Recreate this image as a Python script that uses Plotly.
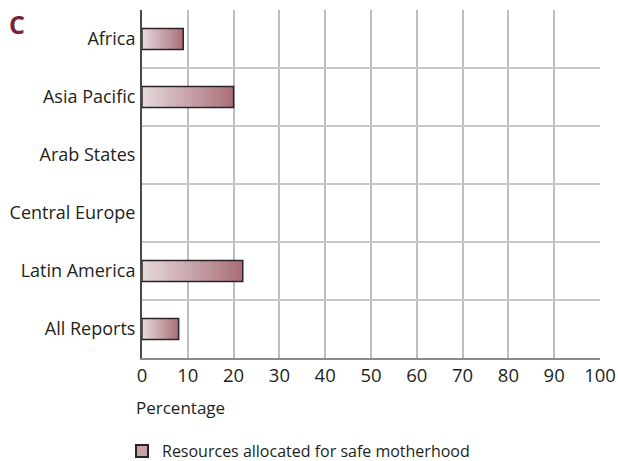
import plotly.graph_objects as go

regions = ["Africa", "Asia Pacific", "Arab States", "Central Europe", "Latin America", "All Reports"]
safe_motherhood = [9, 20, 0, 0, 22, 8]
x_ticks = [0, 10, 20, 30, 40, 50, 60, 70, 80, 90, 100]

light = (232, 220, 223)
dark = (170, 112, 122)
steps = 24

# zero values get no bar at all
vals = [v if v else None for v in safe_motherhood]

fig = go.Figure()

# fake the left-to-right gradient: overlay bars that get shorter and lighter
for i in range(steps):
    f = 1 - i / steps
    col = tuple(round(light[k] + (dark[k] - light[k]) * f) for k in range(3))
    fig.add_trace(go.Bar(
        y=regions,
        x=[v * f if v else None for v in vals],
        orientation="h",
        width=0.36,
        marker=dict(color="rgb(%d,%d,%d)" % col, line=dict(width=0)),
        showlegend=False,
        hoverinfo="skip",
    ))

# outline on top
fig.add_trace(go.Bar(
    y=regions,
    x=vals,
    orientation="h",
    width=0.36,
    marker=dict(color="rgba(0,0,0,0)", line=dict(color="#2b2426", width=1.5)),
    showlegend=False,
))

# legend entry only
fig.add_trace(go.Bar(
    y=[regions[0]],
    x=[None],
    orientation="h",
    name="Resources allocated for safe motherhood",
    marker=dict(color="rgb(200,160,167)", line=dict(color="#2b2426", width=1.5)),
))

W, H = 618, 461
fig.update_layout(
    width=W,
    height=H,
    barmode="overlay",
    plot_bgcolor="white",
    paper_bgcolor="white",
    font=dict(family="Open Sans, Noto Sans, sans-serif", size=18, color="#231f20"),
    margin=dict(l=142, r=18, t=10, b=103, autoexpand=False),
    showlegend=True,
    legend=dict(
        orientation="h",
        x=122 / W, xref="container", xanchor="left",
        y=(H - 451) / H, yref="container", yanchor="middle",
        font=dict(size=16),
        itemsizing="constant",
        bgcolor="rgba(0,0,0,0)",
    ),
    xaxis=dict(
        range=[0, 100],
        tickvals=x_ticks,
        showgrid=True,
        gridcolor="#bdbdbd",
        gridwidth=2,
        zeroline=False,
        showline=True,
        linecolor="#8a8a8a",
        linewidth=2,
        ticks="",
        automargin=False,
        tickfont=dict(size=18.5),
    ),
    yaxis=dict(
        categoryorder="array",
        categoryarray=regions,
        autorange="reversed",
        tickson="boundaries",
        showgrid=True,
        gridcolor="#c8c8c8",
        gridwidth=2,
        showline=True,
        linecolor="#4a4a4a",
        linewidth=2,
        ticks="",
        automargin=False,
        ticklabelstandoff=1,
    ),
    annotations=[
        dict(text="<b>C</b>", x=0, y=0, xref="paper", yref="paper",
             xanchor="left", yanchor="top", showarrow=False,
             font=dict(size=25, color="#7a1e3c")),
        dict(text="Percentage", xref="paper", yref="paper", x=0, y=0,
             xanchor="left", yanchor="middle", showarrow=False,
             font=dict(size=17)),
    ],
)
# place the panel letter and axis title in pixel terms
pw, ph = W - 142 - 18, H - 10 - 103
fig.layout.annotations[0].update(x=(7 - 142) / pw, y=1 + (10 - 5) / ph)
fig.layout.annotations[1].update(x=(134 - 142) / pw, y=-(407 - 358) / ph)

# drop the default page margin so the figure sits at the window corner
fig.write_html("out.html", config={"displayModeBar": False},
               post_script="document.body.style.margin='0';")
